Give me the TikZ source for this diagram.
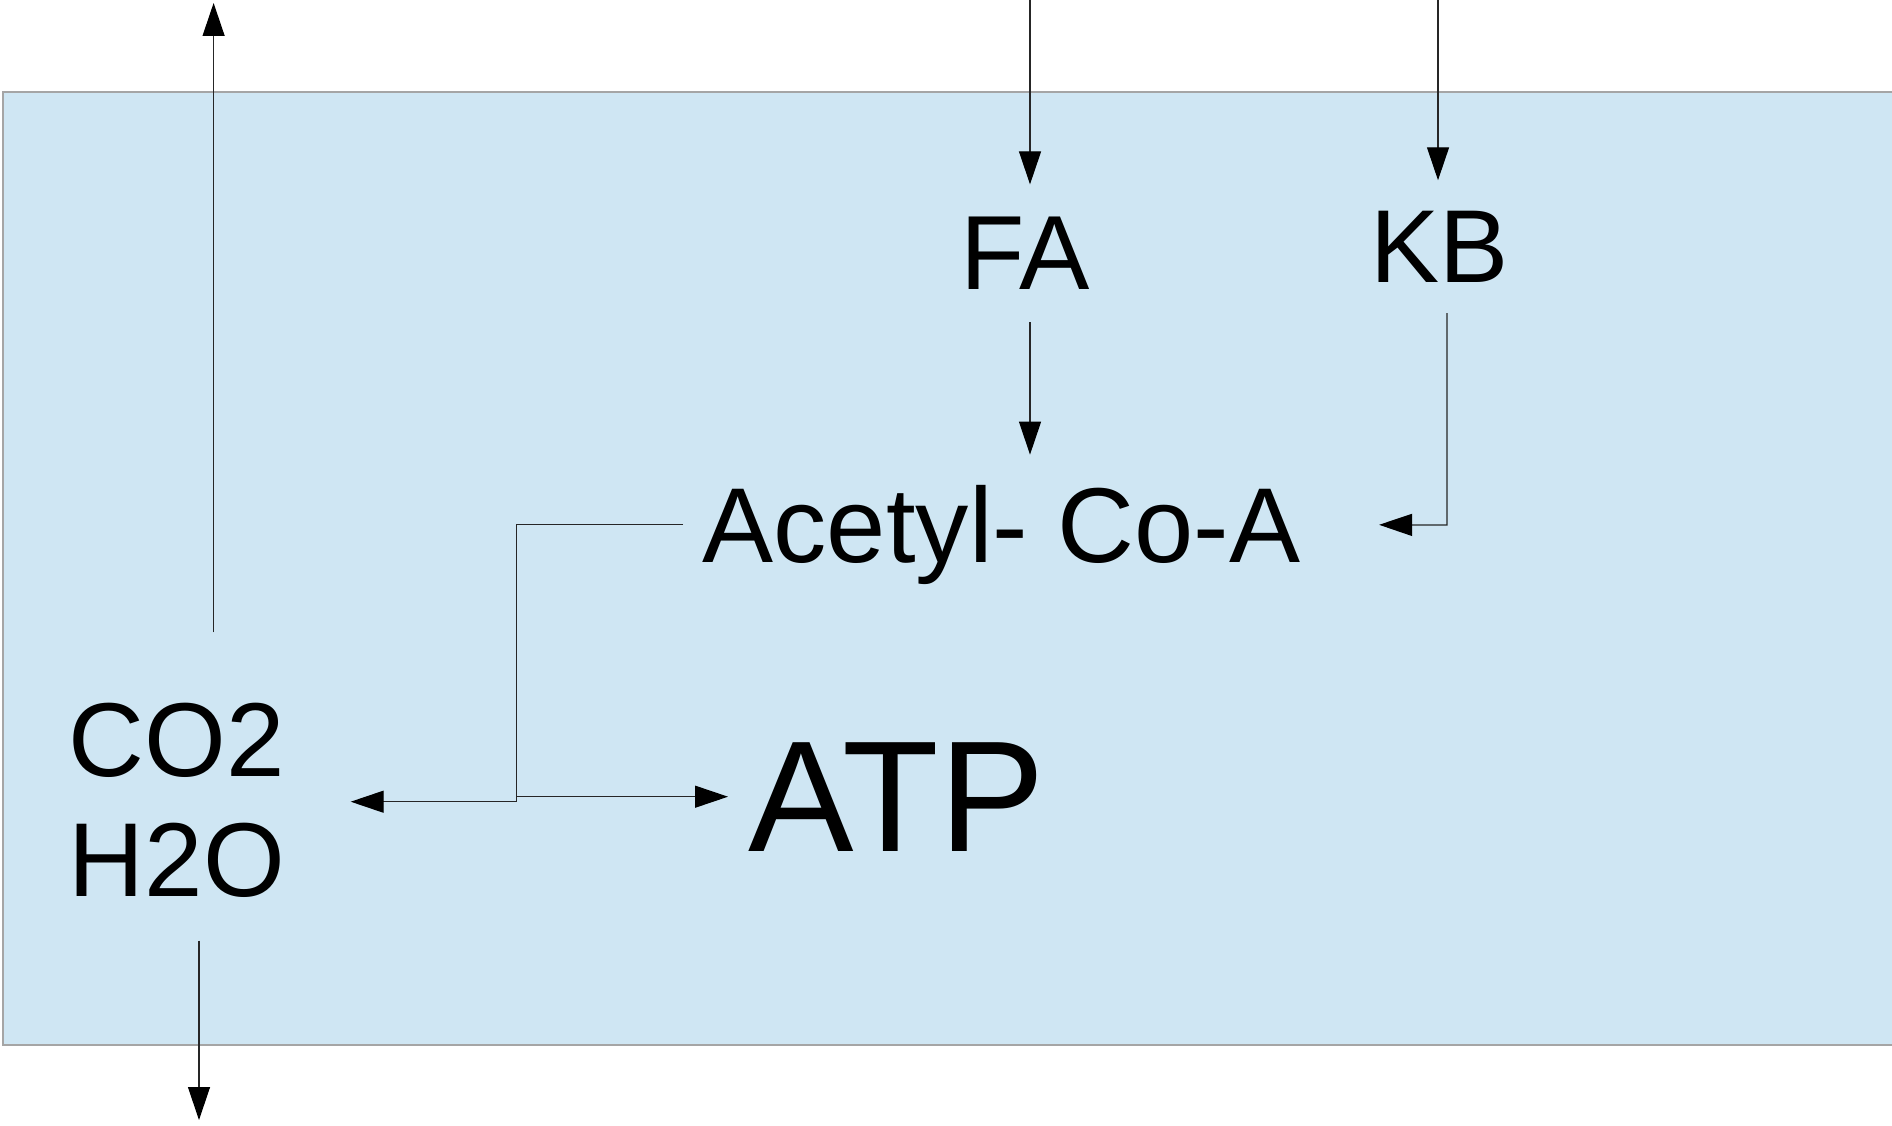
\documentclass[tikz,border=0pt]{standalone}
\usepackage{fontspec}
\setmainfont{Liberation Sans}
\usetikzlibrary{arrows.meta,calc}
\definecolor{cellblue}{RGB}{207,230,243}
\definecolor{edgegray}{RGB}{165,165,165}

\begin{document}
\begin{tikzpicture}[
    flow/.style={draw=black!85, line width=0.35pt, -{Triangle[length=3.3mm, width=2.2mm, color=black]}},
    chem/.style={font=\fontsize{30}{34}\selectfont}
]
    \useasboundingbox (0,0) rectangle (18.92,11.25);
    % The cell is the blue box, open on the right.
        \fill[cellblue] (0.027,0.80) rectangle (18.95,10.33);
        \draw[edgegray, line width=0.5pt] (18.95,10.33) -- (0.027,10.33) -- (0.027,0.80) -- (18.95,0.80);
    % Below nodes are the labels.
        \node[chem, anchor=base, inner sep=0.32cm] (fa) at (10.254,8.354) {FA};
        \node[chem, anchor=base, inner sep=0.30cm, font=\fontsize{29.5}{34}\selectfont] (kb) at (14.395,8.427) {KB};
        \node[chem, anchor=base west, inner xsep=0.19cm, inner ysep=0.32cm, text height=0.75cm, text depth=0pt,
            font=\fontsize{30.3}{34}\selectfont] (acoa) at (6.83,5.627) {Acetyl- Co-A};
        \node[chem, anchor=west, inner xsep=0.2cm, inner ysep=0pt, font=\fontsize{45}{52}\selectfont] (atp) at (7.28,3.283) {ATP};
        \node[chem, anchor=east, inner xsep=0.65cm, inner ysep=0.7cm, align=left,
            font=\fontsize{29.9}{34.3}\selectfont] (co2) at (3.507,3.245) {CO2\\H2O};
    % Free ends of the arrows.
        \coordinate (fain) at (10.30,11.25);
        \coordinate (kbin) at (14.38,11.25);
        \coordinate (kbbend) at (14.47,6.00);
        \coordinate (split) at (5.167,3.233);
        \coordinate (vent) at (2.136,11.22);
        \coordinate (drain) at (1.99,0.05);
    % Arrows into the cell.
        \draw[flow] (fain) -- (fain |- fa.north);
        \draw[flow] (kbin) -- (kbin |- kb.north);
        \draw[flow] (fain |- fa.south) -- (fain |- acoa.north);
        \draw[flow] (kbbend |- kb.south) -- (kbbend) -- ([xshift=5.9mm]acoa.east);
    % This splits Acetyl-Co-A into ATP and CO2 / H2O.
        \draw[flow] (acoa.west) -| (split) -- (split -| co2.east);
        \draw[flow] (split |- atp.west) -- (atp.west);
    % Arrows out of the cell.
        \draw[flow] (co2.north -| vent) -- (vent);
        \draw[flow] ($(co2.south -| drain)+(0,0.28)$) -- (drain);
\end{tikzpicture}
\end{document}
